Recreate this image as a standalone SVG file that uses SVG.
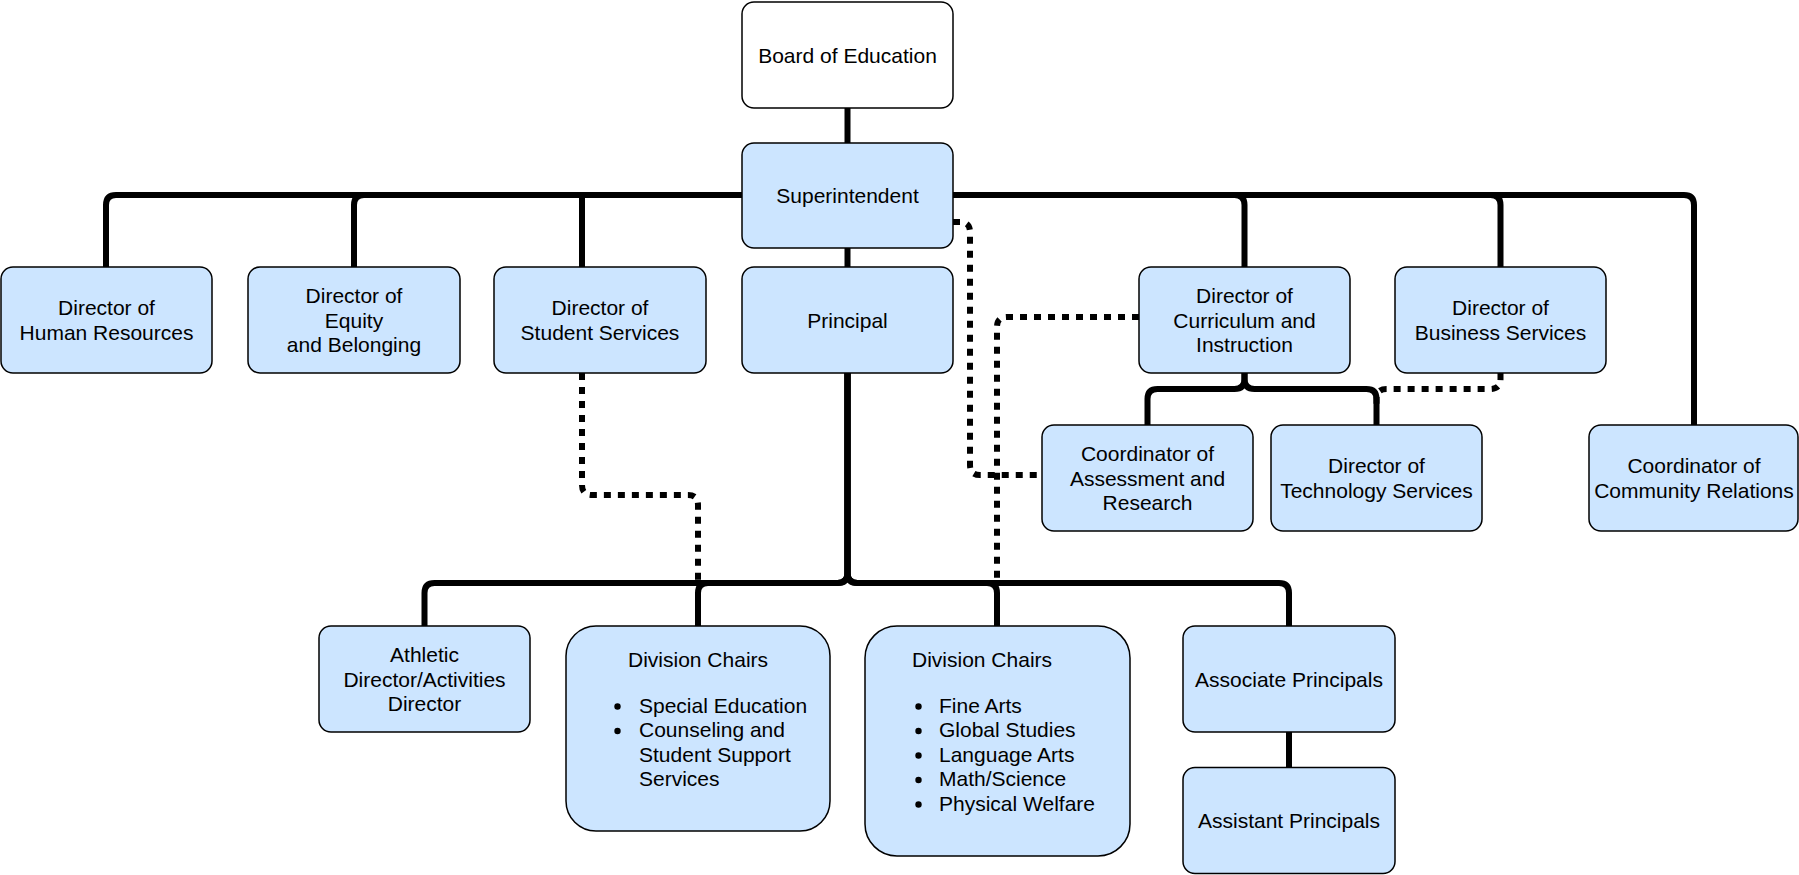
<svg xmlns="http://www.w3.org/2000/svg" width="1799" height="875" viewBox="0 0 1799 875">
<style>
.box{fill:#cce5ff;stroke:#000;stroke-width:1.5}
.white{fill:#fff}
.t{font-family:"Liberation Sans",Arial,sans-serif;font-size:21px;fill:#000;text-anchor:middle}
.tl{text-anchor:start}
.solid{fill:none;stroke:#000;stroke-width:6}
.dot{fill:none;stroke:#000;stroke-width:6;stroke-dasharray:7 7}
</style>
<rect width="1799" height="875" fill="#fff"/>
<g id="connectors">
<path class="solid" d="M847.5,108 L847.5,143"/>
<path class="solid" d="M847.5,248 L847.5,267"/>
<path class="solid" d="M742,195 L116,195 Q106,195 106,205 L106,267"/>
<path class="solid" d="M742,195 L364,195 Q354,195 354,205 L354,267"/>
<path class="solid" d="M742,195 L582,195 L582,267"/>
<path class="solid" d="M953,195 L1234.5,195 Q1244.5,195 1244.5,205 L1244.5,267"/>
<path class="solid" d="M953,195 L1490.5,195 Q1500.5,195 1500.5,205 L1500.5,267"/>
<path class="solid" d="M953,195 L1684,195 Q1694,195 1694,205 L1694,425"/>
<path class="solid" d="M847.5,373 L847.5,573 Q847.5,583 837.5,583 L434.5,583 Q424.5,583 424.5,593 L424.5,626"/>
<path class="solid" d="M847.5,373 L847.5,573 Q847.5,583 837.5,583 L708,583 Q698,583 698,593 L698,626"/>
<path class="solid" d="M847.5,373 L847.5,573 Q847.5,583 857.5,583 L987,583 Q997,583 997,593 L997,626"/>
<path class="solid" d="M847.5,373 L847.5,573 Q847.5,583 857.5,583 L1279,583 Q1289,583 1289,593 L1289,626"/>
<path class="solid" d="M1244.5,373 L1244.5,379 Q1244.5,389 1234.5,389 L1157.5,389 Q1147.5,389 1147.5,399 L1147.5,425"/>
<path class="solid" d="M1244.5,373 L1244.5,379 Q1244.5,389 1254.5,389 L1366.5,389 Q1376.5,389 1376.5,399 L1376.5,425"/>
<path class="solid" d="M1289,732 L1289,767.5"/>
<path class="dot" d="M953,222 L960,222 Q970,222 970,232 L970,465 Q970,475 980,475 L1042,475"/>
<path class="dot" d="M1139,317 L1007,317 Q997,317 997,327 L997,583"/>
<path class="dot" d="M582,373 L582,485 Q582,495 592,495 L688,495 Q698,495 698,505 L698,583"/>
<path class="dot" d="M1500.5,373 L1500.5,379 Q1500.5,389 1490.5,389 L1386.5,389 Q1376.5,389 1376.5,399 L1376.5,405"/>
</g>
<g id="board"><rect class="box white" x="742" y="2" width="211" height="106" rx="12"/><text class="t" x="847.5" y="62.5">Board of Education</text></g>
<g id="superintendent"><rect class="box" x="742" y="143" width="211" height="105" rx="12"/><text class="t" x="847.5" y="203">Superintendent</text></g>
<g id="hr"><rect class="box" x="1" y="267" width="211" height="106" rx="12"/><text class="t" x="106.5" y="315.25">Director of</text><text class="t" x="106.5" y="339.75">Human Resources</text></g>
<g id="equity"><rect class="box" x="248" y="267" width="212" height="106" rx="12"/><text class="t" x="354" y="303">Director of</text><text class="t" x="354" y="327.5">Equity</text><text class="t" x="354" y="352">and Belonging</text></g>
<g id="student-services"><rect class="box" x="494" y="267" width="212" height="106" rx="12"/><text class="t" x="600" y="315.25">Director of</text><text class="t" x="600" y="339.75">Student Services</text></g>
<g id="principal"><rect class="box" x="742" y="267" width="211" height="106" rx="12"/><text class="t" x="847.5" y="327.5">Principal</text></g>
<g id="curriculum"><rect class="box" x="1139" y="267" width="211" height="106" rx="12"/><text class="t" x="1244.5" y="303">Director of</text><text class="t" x="1244.5" y="327.5">Curriculum and</text><text class="t" x="1244.5" y="352">Instruction</text></g>
<g id="business"><rect class="box" x="1395" y="267" width="211" height="106" rx="12"/><text class="t" x="1500.5" y="315.25">Director of</text><text class="t" x="1500.5" y="339.75">Business Services</text></g>
<g id="assessment"><rect class="box" x="1042" y="425" width="211" height="106" rx="12"/><text class="t" x="1147.5" y="461">Coordinator of</text><text class="t" x="1147.5" y="485.5">Assessment and</text><text class="t" x="1147.5" y="510">Research</text></g>
<g id="technology"><rect class="box" x="1271" y="425" width="211" height="106" rx="12"/><text class="t" x="1376.5" y="473.25">Director of</text><text class="t" x="1376.5" y="497.75">Technology Services</text></g>
<g id="community"><rect class="box" x="1589" y="425" width="209" height="106" rx="12"/><text class="t" x="1694" y="473.25">Coordinator of</text><text class="t" x="1694" y="497.75">Community Relations</text></g>
<g id="athletic"><rect class="box" x="319" y="626" width="211" height="106" rx="12"/><text class="t" x="424.5" y="662">Athletic</text><text class="t" x="424.5" y="686.5">Director/Activities</text><text class="t" x="424.5" y="711">Director</text></g>
<g id="division-chairs-1"><rect class="box" x="566" y="626" width="264" height="205" rx="30"/>
<text class="t tl" x="628" y="666.5">Division Chairs</text>
<circle cx="617.5" cy="706.5" r="3.2"/><text class="t tl" x="639" y="712.5">Special Education</text>
<circle cx="617.5" cy="731" r="3.2"/><text class="t tl" x="639" y="737">Counseling and</text>
<text class="t tl" x="639" y="761.5">Student Support</text>
<text class="t tl" x="639" y="786">Services</text></g>
<g id="division-chairs-2"><rect class="box" x="865" y="626" width="265" height="230" rx="32"/>
<text class="t tl" x="912" y="666.5">Division Chairs</text>
<circle cx="918.5" cy="706.5" r="3.2"/><text class="t tl" x="939" y="712.5">Fine Arts</text>
<circle cx="918.5" cy="731" r="3.2"/><text class="t tl" x="939" y="737">Global Studies</text>
<circle cx="918.5" cy="755.5" r="3.2"/><text class="t tl" x="939" y="761.5">Language Arts</text>
<circle cx="918.5" cy="780" r="3.2"/><text class="t tl" x="939" y="786">Math/Science</text>
<circle cx="918.5" cy="804.5" r="3.2"/><text class="t tl" x="939" y="810.5">Physical Welfare</text></g>
<g id="associate"><rect class="box" x="1183" y="626" width="212" height="106" rx="12"/><text class="t" x="1289" y="686.5">Associate Principals</text></g>
<g id="assistant"><rect class="box" x="1183" y="767.5" width="212" height="106" rx="12"/><text class="t" x="1289" y="828">Assistant Principals</text></g>
</svg>
